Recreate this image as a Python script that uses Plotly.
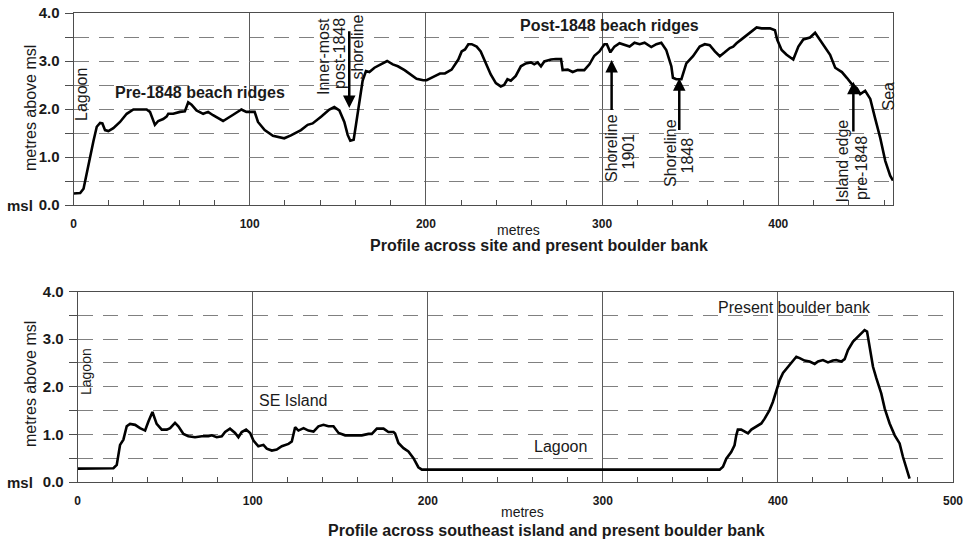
import plotly.graph_objects as go

# ---- data (metres along profile, metres above msl) ----
top_profile = [
    (0, 0.24), (3.8, 0.25), (5.7, 0.34), (7.5, 0.65), (9.4, 1.05), (11.3, 1.33), (13.2, 1.63),
    (15.1, 1.71), (16.4, 1.70), (17.9, 1.56), (19.8, 1.54), (22.6, 1.60), (26.4, 1.73), (30.2, 1.90),
    (34, 1.99), (37.7, 1.99), (41.5, 1.99), (43.4, 1.94), (46.2, 1.67), (48.1, 1.75), (50.9, 1.79),
    (52.8, 1.84), (53.8, 1.90), (56.6, 1.90), (60.4, 1.94), (63.2, 1.95), (65.1, 2.14), (67, 2.09),
    (69.8, 1.97), (73.6, 1.90), (76.4, 1.94), (79.2, 1.87), (84.9, 1.75), (90.6, 1.88), (95.3, 1.99),
    (98.1, 1.94), (102.8, 1.94), (104.7, 1.73), (108.5, 1.56), (113.2, 1.44), (117, 1.41),
    (119.6, 1.39), (123.4, 1.45), (129.1, 1.56), (132.9, 1.67), (135.7, 1.70), (140.5, 1.84),
    (145.2, 1.99), (148, 2.04), (150.9, 1.97), (153.7, 1.73), (155.6, 1.46), (157.1, 1.34),
    (159, 1.36), (160.3, 1.67), (162.2, 2.14), (164.1, 2.59), (166, 2.79), (167.9, 2.77),
    (170.8, 2.86), (174.6, 2.93), (178, 3.00), (181.2, 2.93), (184.1, 2.89), (187.9, 2.81),
    (191.7, 2.70), (194.7, 2.63), (198.5, 2.60), (200.4, 2.60), (204.2, 2.67), (208, 2.74),
    (210.8, 2.74), (214.6, 2.82), (218.4, 3.03), (220.3, 3.20), (222.2, 3.24), (224.1, 3.35),
    (226, 3.35), (228.8, 3.30), (231.1, 3.20), (234, 2.96), (236.8, 2.72), (239.7, 2.54),
    (242.5, 2.47), (244.4, 2.50), (246.3, 2.62), (248.2, 2.59), (251, 2.69), (253.9, 2.89),
    (256.7, 2.95), (259.6, 2.97), (261.5, 2.93), (263.4, 2.97), (265.3, 2.89), (267.2, 2.99),
    (271, 3.03), (273.8, 3.04), (276.7, 3.04), (277.6, 2.81), (280.5, 2.82), (283.3, 2.77),
    (286.1, 2.81), (289.9, 2.81), (292.8, 2.93), (295.6, 3.11), (298.5, 3.20), (301.3, 3.35),
    (302.7, 3.35), (304.7, 3.18), (307, 3.30), (309.9, 3.37), (312.7, 3.33), (315.6, 3.30),
    (318.4, 3.38), (321.3, 3.35), (324.1, 3.38), (327.9, 3.29), (330.8, 3.35), (333.6, 3.38),
    (336.4, 3.23), (339.3, 2.89), (340.2, 2.65), (342.1, 2.62), (345, 2.62), (347.8, 2.95),
    (351.6, 3.10), (355.4, 3.30), (358.3, 3.35), (361.1, 3.33), (364, 3.20), (366.8, 3.10),
    (369.6, 3.18), (372.5, 3.27), (374.4, 3.30), (376.3, 3.37), (379.1, 3.45), (382, 3.54),
    (384.8, 3.61), (387.7, 3.70), (390.5, 3.68), (395.3, 3.68), (398.1, 3.64), (399.4, 3.44),
    (401.9, 3.23), (404.7, 3.13), (408.5, 3.03), (411.4, 3.30), (414.2, 3.45), (418, 3.49),
    (420.9, 3.59), (423.7, 3.44), (426.6, 3.30), (429.4, 3.13), (432.3, 2.86), (436.1, 2.77),
    (438.9, 2.65), (441.7, 2.52), (444.6, 2.43), (446.5, 2.31), (449.3, 2.38), (452.2, 2.21),
    (455, 1.80), (457.9, 1.39), (460.7, 0.92), (463.5, 0.61), (465.1, 0.51),
]

bottom_profile = [
    (0, 0.28), (9.9, 0.29), (20.4, 0.29), (22.3, 0.36), (24.2, 0.78), (26.1, 0.89), (28, 1.17),
    (29.9, 1.22), (32.8, 1.20), (35.6, 1.13), (38.5, 1.08), (40.4, 1.27), (42.7, 1.47), (45.1, 1.22),
    (48, 1.10), (50.9, 1.10), (52.8, 1.13), (55.6, 1.24), (57.5, 1.17), (60.4, 1.01), (63.2, 0.96),
    (67, 0.94), (70.9, 0.96), (74.7, 0.96), (76.6, 0.98), (79.4, 0.94), (82.3, 0.96), (84.2, 1.05),
    (87, 1.12), (89.9, 1.03), (91.8, 0.94), (93.7, 1.05), (96.2, 1.10), (98.5, 1.03), (100.4, 0.87),
    (103.2, 0.75), (106.1, 0.78), (108, 0.70), (110.9, 0.66), (113.7, 0.68), (116.6, 0.75),
    (120.4, 0.80), (122.3, 0.85), (124.2, 1.15), (126.1, 1.08), (129, 1.13), (131.8, 1.08),
    (134.7, 1.06), (137.5, 1.17), (140.4, 1.20), (143.2, 1.17), (146.1, 1.17), (149, 1.03),
    (152.8, 0.98), (156.6, 0.98), (162.3, 0.98), (166.1, 1.01), (168, 1.01), (170.9, 1.12),
    (174.7, 1.12), (177.5, 1.05), (180.4, 1.05), (181.3, 1.02), (183.2, 0.82), (186.1, 0.71),
    (188.9, 0.64), (191.8, 0.50), (194.6, 0.31), (196.6, 0.26), (212.7, 0.26), (241.3, 0.25),
    (288.9, 0.25), (298.5, 0.26), (355.2, 0.26), (366.7, 0.26), (368.6, 0.32), (370.5, 0.49),
    (373.3, 0.63), (375.2, 0.77), (376.2, 0.98), (377.1, 1.10), (379, 1.10), (381, 1.05),
    (382.9, 1.02), (384.8, 1.10), (387.6, 1.17), (390.5, 1.23), (392.4, 1.33), (395.2, 1.51),
    (397.1, 1.68), (399, 1.93), (401, 2.14), (402.9, 2.29), (405.7, 2.41), (407.6, 2.49),
    (410.5, 2.63), (412.4, 2.60), (415.2, 2.55), (418.1, 2.53), (421, 2.48), (422.9, 2.53),
    (425.7, 2.56), (428.6, 2.51), (431.4, 2.55), (433.3, 2.56), (436.2, 2.53), (438.1, 2.58),
    (440, 2.77), (442.9, 2.95), (445.7, 3.05), (448, 3.12), (449.5, 3.19), (450.9, 3.16),
    (452.4, 2.84), (454.3, 2.42), (456.2, 2.18), (459, 1.86), (461, 1.54), (463.8, 1.23),
    (466.7, 0.98), (469.5, 0.81), (471.4, 0.53), (473.3, 0.32), (475.2, 0.07),
]

y_tick_vals = [0, 1, 2, 3, 4]
y_tick_text = ["0.0", "1.0", "2.0", "3.0", "4.0"]

# arrows: (x, tail y, head y)
top_arrows = [(156.5, 3.65, 2.02), (305.4, 1.95, 3.02), (343.8, 1.53, 2.64), (442.6, 1.50, 2.57)]

W, H = 969, 543
FONT = "Liberation Sans"
TXT = "#1a1a1a"
GRID = "#808080"
FRAME = "#4d4d4d"

fig = go.Figure()
fig.add_trace(go.Scatter(x=[p[0] for p in top_profile], y=[p[1] for p in top_profile],
                         mode="lines", line=dict(color="black", width=2.6), xaxis="x", yaxis="y",
                         showlegend=False, hoverinfo="skip"))
fig.add_trace(go.Scatter(x=[p[0] for p in bottom_profile], y=[p[1] for p in bottom_profile],
                         mode="lines", line=dict(color="black", width=2.6), xaxis="x2", yaxis="y2",
                         showlegend=False, hoverinfo="skip"))


def px_dom(a, b, total):
    return [a / total, b / total]


def xaxis_cfg(dom, rng, anchor):
    return dict(domain=dom, range=rng, anchor=anchor, automargin=False,
                tickmode="linear", tick0=0, dtick=100,
                showgrid=True, gridcolor="#5a5a5a", gridwidth=1, zeroline=False,
                showline=True, linecolor=FRAME, linewidth=1, mirror=True, ticks="",
                tickfont=dict(family=FONT, size=12, color=TXT, weight="bold"),
                ticklabelstandoff=8,
                minor=dict(tick0=0, dtick=20, ticks="inside", ticklen=5, tickcolor=FRAME,
                           tickwidth=1, showgrid=False))


def yaxis_cfg(dom, anchor):
    return dict(domain=dom, range=[0, 4], anchor=anchor, automargin=False, tickmode="array",
                tickvals=y_tick_vals, ticktext=y_tick_text,
                showgrid=True, gridcolor=GRID, gridwidth=1, griddash="15px,10px", zeroline=False,
                showline=True, linecolor=FRAME, linewidth=1, mirror=True,
                ticks="outside", ticklen=8, tickcolor=FRAME, tickwidth=1,
                tickfont=dict(family=FONT, size=15, color=TXT, weight="bold"),
                ticklabelstandoff=2,
                minor=dict(tickmode="array", tickvals=[0.5, 1.5, 2.5, 3.5], ticks="outside",
                           ticklen=8, tickcolor=FRAME, showgrid=True, gridcolor=GRID,
                           griddash="15px,10px", gridwidth=1))


fig.update_layout(
    width=W, height=H, autosize=False,
    margin=dict(l=0, r=0, t=0, b=0, autoexpand=False),
    paper_bgcolor="white", plot_bgcolor="white",
    xaxis=xaxis_cfg(px_dom(73.5, 893, W), [0, 465.1], "y"),
    yaxis=yaxis_cfg([1 - 205 / H, 1 - 13 / H], "x"),
    xaxis2=xaxis_cfg(px_dom(77.7, 953, W), [0, 500], "y2"),
    yaxis2=yaxis_cfg([1 - 482 / H, 1 - 291.5 / H], "x2"),
)

anns = []


def label(text, xpx, ypx, size=16, bold=False, angle=0):
    anns.append(dict(text=text, x=xpx / W, y=1 - ypx / H, xref="paper", yref="paper",
                     xanchor="center", yanchor="middle", showarrow=False, textangle=angle,
                     font=dict(family=FONT, size=size, color=TXT,
                               weight="bold" if bold else "normal")))


# top panel texts
label("Lagoon", 81, 95, 16, angle=-90)
label("Pre-1848 beach ridges", 200, 92, 16, bold=True)
label("Inner-most", 323.5, 56.5, 16, angle=-90)
label("post-1848", 339.5, 53.5, 16, angle=-90)
label("shoreline", 357, 47.5, 16, angle=-90)
label("Post-1848 beach ridges", 609, 26, 16, bold=True)
label("Shoreline", 612, 148, 16, angle=-90)
label("1901", 628.5, 152, 16, angle=-90)
label("Shoreline", 670.5, 153.5, 16, angle=-90)
label("1848", 687.5, 156, 16, angle=-90)
label("Island edge", 842, 161.5, 16, angle=-90)
label("pre-1848", 861, 168, 16, angle=-90)
label("Sea", 887.5, 96, 16, angle=-90)
label("metres", 518, 230, 14)
label("Profile across site and present boulder bank", 538.5, 245, 16, bold=True)
label("msl", 19.5, 205, 15, bold=True)
label("metres above msl", 31, 108, 16, angle=-90)

# bottom panel texts
label("Lagoon", 86, 372, 14, angle=-90)
label("SE Island", 293, 400, 16)
label("Lagoon", 560, 446, 16)
label("Present boulder bank", 794.5, 307, 16)
label("metres", 522, 512, 14)
label("Profile across southeast island and present boulder bank", 546, 530, 16, bold=True)
label("msl", 20, 482, 15, bold=True)
label("metres above msl", 30, 384, 16, angle=-90)

for x, ytail, yhead in top_arrows:
    anns.append(dict(x=x, y=yhead, ax=x, ay=ytail, xref="x", yref="y", axref="x", ayref="y",
                     showarrow=True, arrowhead=2, arrowsize=1, arrowwidth=2.5,
                     arrowcolor="black", text=""))

fig.update_layout(annotations=anns)
fig.write_html("out.html", config={"displayModeBar": False},
               post_script="document.body.style.margin='0';document.body.style.overflow='hidden';")
